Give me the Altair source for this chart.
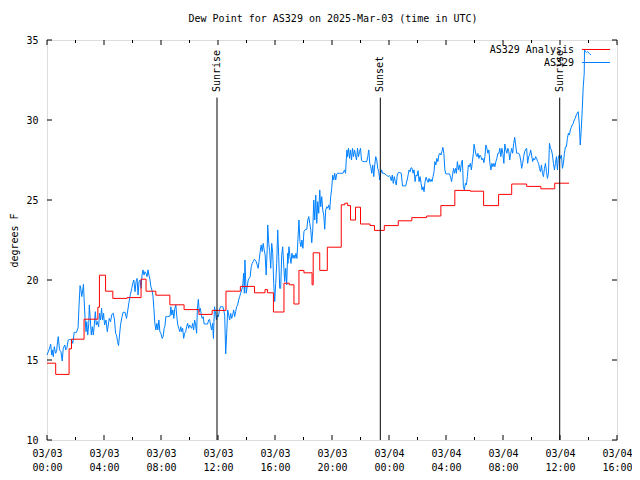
import altair as alt
import pandas as pd

# ---------------- data (hours since 2025-03-03 00:00 UTC, dew point in deg F) ----------------
title_text = "Dew Point for AS329 on 2025-Mar-03 (time in UTC)"
series_names = ["AS329 Analysis", "AS329"]
series_colors = ["#ff0000", "#0080ff"]

red_hours = [0.0, 0.61, 1.55, 1.72, 2.6, 3.57, 3.68, 4.11, 4.62, 5.62, 6.6, 6.95, 7.64, 8.62,
             9.62, 10.66, 11.59, 12.56, 13.57, 14.56, 15.3, 15.47, 15.89, 16.63, 17.0, 17.33,
             17.68, 18.03, 18.6, 18.68, 19.14, 19.67, 20.65, 20.9, 21.1, 21.3, 21.65, 22.0,
             22.67, 22.98, 23.67, 24.65, 25.6, 26.64, 27.64, 28.62, 29.7, 30.64, 31.69, 32.61,
             33.66, 34.66, 35.63, 36.63]
red_vals = [14.8, 14.1, 15.7, 16.3, 17.55, 18.3, 20.3, 19.3, 18.85, 18.9, 20.05, 19.3, 19.05, 18.45,
            18.15, 17.85, 18.1, 19.3, 19.6, 19.2, 19.4, 19.2, 18.0, 19.8, 19.7, 18.5,
            20.6, 20.45, 19.7, 21.7, 20.6, 22.05, 24.7, 24.8, 24.65, 23.75, 24.55, 23.5,
            23.4, 23.1, 23.4, 23.7, 23.9, 24.0, 24.65, 25.6, 25.55, 24.65, 25.35, 26.0,
            25.85, 25.7, 26.05, 26.05]

blue_seg1 = [(0.00, 15.31), (0.14, 15.63), (0.26, 15.98), (0.33, 15.31), (0.37, 15.63), (0.44, 15.21),
             (0.51, 15.83), (0.60, 15.42), (0.67, 15.52), (0.74, 16.15), (0.79, 16.46), (0.88, 15.63),
             (0.98, 15.52), (1.07, 14.94), (1.14, 15.73), (1.25, 15.94), (1.32, 15.63), (1.39, 15.73),
             (1.49, 16.25), (1.60, 16.29), (1.72, 16.25), (1.81, 16.04), (1.91, 16.73), (2.07, 16.73),
             (2.18, 17.02), (2.25, 18.44), (2.32, 19.65), (2.37, 19.48), (2.44, 18.96), (2.51, 19.38),
             (2.56, 19.73), (2.60, 18.85), (2.67, 17.6), (2.74, 16.77), (2.79, 17.4), (2.86, 16.56),
             (2.93, 17.29), (2.97, 18.44), (3.04, 17.5), (3.11, 16.56), (3.18, 17.08), (3.25, 16.56),
             (3.32, 17.19), (3.39, 18.02), (3.46, 17.19), (3.53, 17.4), (3.62, 17.08), (3.69, 17.92),
             (3.76, 17.5), (3.83, 18.23), (3.90, 17.5), (3.97, 17.92), (4.04, 17.19), (4.14, 17.5),
             (4.23, 16.77), (4.30, 17.19), (4.37, 17.6), (4.46, 17.4), (4.55, 17.85), (4.65, 17.92),
             (4.74, 17.5), (4.81, 16.67), (4.88, 16.56), (4.95, 16.15), (5.02, 15.9), (5.09, 16.56),
             (5.16, 17.19), (5.25, 17.65), (5.34, 17.98), (5.48, 17.98), (5.58, 17.6), (5.67, 18.12),
             (5.76, 18.65), (5.85, 19.1), (5.95, 19.48), (6.02, 19.79), (6.09, 20.0), (6.18, 19.27),
             (6.25, 19.9), (6.32, 20.1), (6.39, 19.06), (6.46, 19.9), (6.53, 20.0), (6.60, 19.48),
             (6.67, 20.31), (6.74, 20.63), (6.81, 20.31), (6.88, 20.52), (6.95, 20.42), (7.02, 20.21),
             (7.09, 20.63), (7.15, 20.31), (7.22, 20.06), (7.29, 19.58), (7.36, 19.38), (7.43, 19.06),
             (7.50, 18.23), (7.57, 17.29), (7.64, 16.88), (7.71, 17.29), (7.78, 16.88), (7.85, 17.5),
             (7.92, 16.77), (7.99, 16.67), (8.08, 16.35), (8.15, 16.46), (8.22, 16.98)]
blue_seg2 = [(8.27, 17.08), (8.34, 17.71), (8.46, 17.71), (8.64, 17.75), (8.69, 18.33), (8.76, 17.81),
             (8.83, 18.13), (8.90, 17.6), (8.97, 18.23), (9.04, 18.44), (9.11, 17.71), (9.18, 17.19),
             (9.25, 16.98), (9.32, 16.77), (9.39, 17.08), (9.45, 16.77), (9.52, 16.98), (9.59, 16.35),
             (9.66, 16.67), (9.73, 16.77), (9.80, 17.08), (9.87, 17.29), (9.94, 16.98), (10.01, 17.19),
             (10.08, 17.08), (10.15, 16.98), (10.22, 17.29), (10.29, 16.88), (10.36, 17.5), (10.43, 17.19),
             (10.50, 16.67), (10.55, 18.13), (10.62, 18.79), (10.69, 18.02), (10.76, 18.23), (10.83, 17.81),
             (10.89, 17.6), (10.96, 17.71), (11.03, 17.25), (11.15, 17.25), (11.27, 17.25), (11.34, 17.5),
             (11.41, 17.54), (11.48, 17.19), (11.55, 16.88), (11.62, 17.29), (11.68, 16.35), (11.75, 18.33),
             (11.82, 18.02), (11.89, 17.5), (11.96, 17.81), (12.03, 17.71), (12.10, 18.13), (12.17, 18.33),
             (12.24, 18.33), (12.34, 18.33), (12.40, 18.13), (12.47, 17.81), (12.54, 15.38), (12.61, 16.67),
             (12.68, 18.13), (12.75, 17.81), (12.82, 17.5), (12.89, 17.92), (12.96, 17.6), (13.03, 17.81),
             (13.10, 18.13), (13.17, 17.71), (13.24, 18.02), (13.31, 18.33), (13.38, 18.44), (13.45, 18.75),
             (13.52, 18.96), (13.59, 19.17), (13.66, 19.38), (13.73, 19.58), (13.80, 20.42), (13.85, 19.17),
             (13.89, 21.25), (13.94, 20.0), (13.98, 19.17), (14.05, 19.58), (14.12, 20.0), (14.19, 20.1),
             (14.26, 20.21), (14.33, 20.83), (14.40, 21.04), (14.47, 21.15), (14.54, 21.29), (14.61, 21.25),
             (14.68, 21.15), (14.75, 20.94), (14.82, 20.73), (14.89, 21.25), (14.96, 21.77), (15.03, 22.19),
             (15.10, 21.77), (15.17, 22.29), (15.24, 21.88), (15.31, 21.56), (15.38, 20.31), (15.45, 21.88),
             (15.49, 23.44), (15.56, 22.29), (15.63, 21.77), (15.70, 20.73), (15.77, 22.29), (15.84, 21.67),
             (15.91, 19.79), (15.98, 18.65), (16.05, 19.79), (16.12, 21.04), (16.19, 23.13), (16.26, 21.46),
             (16.33, 19.48), (16.40, 19.48), (16.47, 21.56), (16.54, 22.08), (16.61, 20.94), (16.68, 19.9),
             (16.75, 20.73), (16.82, 19.69), (16.89, 21.67)]
blue_seg3 = [(16.91, 21.04), (16.98, 22.08), (17.05, 21.46), (17.12, 21.04), (17.19, 21.67), (17.26, 21.35),
             (17.33, 21.56), (17.40, 21.35), (17.47, 21.67), (17.54, 21.35), (17.61, 22.54), (17.68, 23.75),
             (17.75, 22.4), (17.82, 22.08), (17.89, 22.5), (17.96, 21.98), (18.03, 23.02), (18.10, 23.13),
             (18.17, 23.17), (18.23, 23.17), (18.30, 23.75), (18.37, 23.96), (18.44, 23.54), (18.51, 23.13),
             (18.58, 22.33), (18.65, 23.13), (18.72, 25.0), (18.79, 23.75), (18.86, 25.31), (18.93, 23.54),
             (19.00, 24.9), (19.07, 24.17), (19.14, 25.63), (19.21, 24.58), (19.28, 25.21), (19.35, 24.38),
             (19.42, 24.06), (19.49, 23.17), (19.56, 24.38), (19.63, 24.58), (19.70, 24.48), (19.77, 24.69),
             (19.84, 24.38), (19.91, 25.21), (19.98, 25.73), (20.05, 26.56), (20.12, 26.25), (20.19, 26.67),
             (20.26, 26.25), (20.33, 26.63), (20.40, 26.67), (20.53, 26.67), (20.67, 26.67), (20.77, 26.67),
             (20.88, 26.88), (20.95, 26.67), (21.00, 27.5), (21.05, 28.13), (21.09, 27.71), (21.16, 28.23),
             (21.23, 27.6), (21.30, 28.13), (21.37, 27.5), (21.44, 28.23), (21.51, 27.71), (21.58, 28.13),
             (21.65, 27.81), (21.72, 27.5), (21.79, 28.23), (21.86, 27.71), (21.93, 28.02), (22.00, 28.23),
             (22.07, 27.5), (22.16, 27.4), (22.30, 27.4), (22.44, 27.4), (22.51, 27.71), (22.58, 28.13),
             (22.65, 27.29), (22.72, 27.08), (22.79, 26.67), (22.86, 27.19), (22.93, 26.46), (23.00, 27.19),
             (23.07, 27.71), (23.14, 27.5), (23.21, 26.98), (23.28, 26.77), (23.35, 26.25), (23.42, 26.67),
             (23.48, 26.88), (23.55, 26.67), (23.65, 26.67), (23.74, 26.6), (23.83, 26.56), (23.93, 26.46),
             (24.02, 26.52), (24.09, 26.46), (24.16, 26.21), (24.23, 26.56), (24.30, 26.04), (24.37, 26.46),
             (24.44, 26.15), (24.51, 25.94), (24.58, 26.56), (24.65, 26.71), (24.76, 26.71), (24.86, 26.67),
             (24.95, 25.88), (25.06, 25.88), (25.18, 25.88), (25.25, 26.21)]
blue_seg4 = [(25.27, 26.21), (25.34, 26.56), (25.41, 26.88), (25.48, 26.77), (25.55, 27.02), (25.62, 26.98),
             (25.69, 26.67), (25.76, 26.88), (25.83, 26.15), (25.90, 26.56), (25.97, 26.5), (26.04, 26.83),
             (26.11, 26.15), (26.18, 26.46), (26.25, 26.04), (26.32, 25.63), (26.39, 25.83), (26.46, 25.52),
             (26.53, 26.15), (26.60, 26.42), (26.67, 26.25), (26.74, 26.1), (26.81, 26.35), (26.88, 26.15),
             (26.95, 26.29), (27.02, 26.15), (27.09, 26.46), (27.16, 26.77), (27.22, 27.4), (27.29, 27.19),
             (27.36, 27.6), (27.43, 27.4), (27.50, 27.81), (27.57, 27.92), (27.64, 27.81), (27.71, 28.02),
             (27.78, 28.29), (27.85, 27.92), (27.92, 26.88), (27.99, 26.63), (28.11, 26.63), (28.25, 26.63),
             (28.32, 26.42), (28.39, 26.15), (28.46, 26.56), (28.53, 26.98), (28.60, 26.67), (28.67, 26.98),
             (28.73, 26.67), (28.80, 27.4), (28.87, 26.88), (28.94, 27.19), (29.01, 26.77), (29.08, 27.29),
             (29.15, 27.5), (29.22, 25.83), (29.29, 25.63), (29.36, 26.04), (29.43, 25.94), (29.50, 26.46),
             (29.57, 27.19), (29.64, 27.08), (29.71, 27.29), (29.78, 26.88), (29.85, 27.4), (29.92, 27.92),
             (29.97, 28.48), (30.04, 28.13), (30.11, 27.81), (30.18, 27.71), (30.24, 27.92), (30.31, 27.6),
             (30.38, 27.81), (30.45, 27.71), (30.52, 27.5), (30.59, 27.6), (30.66, 27.33), (30.73, 27.71),
             (30.80, 28.44), (30.87, 28.23), (30.94, 27.92), (31.01, 28.13), (31.08, 27.29), (31.15, 26.88),
             (31.22, 27.29), (31.29, 27.08), (31.36, 27.29), (31.43, 27.08), (31.50, 27.4), (31.57, 27.6),
             (31.64, 27.92), (31.71, 27.92), (31.78, 28.23), (31.85, 27.71), (31.92, 28.23), (31.99, 27.92),
             (32.06, 27.29), (32.13, 28.5), (32.20, 28.13), (32.27, 27.92), (32.34, 28.23), (32.41, 28.02),
             (32.47, 27.5), (32.54, 27.92), (32.61, 28.23), (32.68, 27.92), (32.75, 28.54), (32.82, 28.92),
             (32.89, 28.44), (32.96, 27.92), (33.03, 27.92), (33.10, 27.92), (33.17, 27.81), (33.24, 27.5),
             (33.31, 26.98), (33.38, 27.29), (33.45, 27.71), (33.52, 28.02), (33.59, 28.17), (33.66, 28.23)]
blue_seg5 = [(33.73, 27.29), (33.80, 27.71), (33.87, 27.81), (33.94, 28.13), (34.01, 27.81), (34.08, 27.4),
             (34.15, 27.6), (34.22, 27.5), (34.29, 27.71), (34.36, 27.6), (34.43, 27.4), (34.50, 27.29),
             (34.56, 26.98), (34.63, 26.77), (34.70, 27.19), (34.77, 26.67), (34.84, 26.46), (34.91, 26.98),
             (34.98, 27.29), (35.05, 26.77), (35.12, 26.35), (35.19, 26.67), (35.26, 28.54), (35.33, 28.23),
             (35.40, 28.13), (35.47, 27.81), (35.54, 27.29), (35.61, 26.88), (35.68, 27.29), (35.75, 27.71),
             (35.82, 26.88), (35.89, 27.71), (35.96, 27.81), (36.03, 27.6), (36.10, 27.81), (36.17, 26.98),
             (36.24, 27.29), (36.31, 27.92), (36.38, 28.33), (36.45, 28.33), (36.52, 28.85), (36.59, 29.17),
             (36.66, 29.06), (36.73, 29.38), (36.79, 29.54), (36.86, 29.69), (36.93, 29.79), (37.00, 30.0),
             (37.07, 30.1), (37.14, 30.31), (37.21, 30.42), (37.28, 30.52), (37.35, 29.79), (37.42, 28.44),
             (37.49, 29.38), (37.56, 30.63), (37.63, 32.08), (37.70, 32.92), (37.72, 34.38), (37.79, 34.27),
             (37.86, 34.21), (37.93, 34.27), (38.05, 34.17), (38.17, 34.06)]

event_names = ["Sunrise", "Sunset", "Sunrise"]
event_hours = [11.93, 23.39, 35.98]

y_ticks = [10, 15, 20, 25, 30, 35]
x_major = [0, 4, 8, 12, 16, 20, 24, 28, 32, 36, 40]
x_minor = [2, 6, 10, 14, 18, 22, 26, 30, 34, 38]

# ---------------- chart ----------------
W, H = 570, 400
FONT = "DejaVu Sans Mono"

blue_df = pd.DataFrame(blue_seg1 + blue_seg2 + blue_seg3 + blue_seg4 + blue_seg5,
                       columns=["hours", "dewpt"])
red_df = pd.DataFrame({"hours": red_hours, "dewpt": red_vals})
ev_df = pd.DataFrame({"hours": event_hours, "name": event_names})
yt_df = pd.DataFrame({"dewpt": y_ticks})
xM_df = pd.DataFrame({"hours": x_major})
xm_df = pd.DataFrame({"hours": x_minor})
title_df = pd.DataFrame({"label": [title_text]})

xs = alt.Scale(domain=[0, 40], nice=False, zero=False)
ys = alt.Scale(domain=[10, 35], nice=False, zero=False)

x_axis = alt.Axis(
    values=x_major, grid=False, ticks=False, tickSize=0, domain=False,
    labelExpr="[datum.value < 24 ? '03/03' : '03/04', (datum.value % 24 < 10 ? '0' : '') + (datum.value % 24) + ':00']",
    labelFont=FONT, labelFontSize=10, labelColor="black", labelPadding=8,
    labelBaseline="top", labelLineHeight=14, labelAngle=0, labelFlush=False,
    labelOverlap=False, title=None,
)
y_axis = alt.Axis(
    values=y_ticks, grid=False, ticks=False, tickSize=0, domain=False,
    labelFont=FONT, labelFontSize=10, labelColor="black", labelPadding=9,
    labelOverlap=False, labelFlush=False,
    title="degrees F", titleFont=FONT, titleFontSize=10, titleFontWeight="normal",
    titleColor="black", titlePadding=6,
)

blue = alt.Chart(blue_df).mark_line(color=series_colors[1], strokeWidth=1).encode(
    x=alt.X("hours:Q", scale=xs, axis=x_axis),
    y=alt.Y("dewpt:Q", scale=ys, axis=y_axis),
)
red = alt.Chart(red_df).mark_line(color=series_colors[0], strokeWidth=1, interpolate="step-after").encode(
    x=alt.X("hours:Q", scale=xs),
    y=alt.Y("dewpt:Q", scale=ys),
)

ev_rule = alt.Chart(ev_df).mark_rule(color="black", strokeWidth=1).encode(
    x=alt.X("hours:Q", scale=xs),
    y=alt.datum(31.4),
    y2=alt.datum(10),
)
ev_text = alt.Chart(ev_df).mark_text(
    angle=270, align="left", baseline="middle", font=FONT, fontSize=10, color="black"
).encode(
    x=alt.X("hours:Q", scale=xs),
    y=alt.datum(31.75),
    text="name:N",
)

tick_left = alt.Chart(yt_df).mark_rule(color="black").encode(
    y=alt.Y("dewpt:Q", scale=ys), x=alt.value(0), x2=alt.value(5))
tick_right = alt.Chart(yt_df).mark_rule(color="black").encode(
    y=alt.Y("dewpt:Q", scale=ys), x=alt.value(W), x2=alt.value(W - 5))
tick_bot_M = alt.Chart(xM_df).mark_rule(color="black").encode(
    x=alt.X("hours:Q", scale=xs), y=alt.value(H), y2=alt.value(H - 5))
tick_top_M = alt.Chart(xM_df).mark_rule(color="black").encode(
    x=alt.X("hours:Q", scale=xs), y=alt.value(0), y2=alt.value(5))
tick_bot_m = alt.Chart(xm_df).mark_rule(color="black").encode(
    x=alt.X("hours:Q", scale=xs), y=alt.value(H), y2=alt.value(H - 3))
tick_top_m = alt.Chart(xm_df).mark_rule(color="black").encode(
    x=alt.X("hours:Q", scale=xs), y=alt.value(0), y2=alt.value(3))

leg1_df = pd.DataFrame({"label": [series_names[0]]})
leg2_df = pd.DataFrame({"label": [series_names[1]]})
leg1_text = alt.Chart(leg1_df).mark_text(align="right", baseline="middle", font=FONT,
                                         fontSize=10, color="black").encode(
    x=alt.value(527), y=alt.value(10), text="label:N")
leg2_text = alt.Chart(leg2_df).mark_text(align="right", baseline="middle", font=FONT,
                                         fontSize=10, color="black").encode(
    x=alt.value(527), y=alt.value(23), text="label:N")
leg1_line = alt.Chart(leg1_df).mark_rule(color=series_colors[0]).encode(
    x=alt.value(535), x2=alt.value(563), y=alt.value(9.5))
leg2_line = alt.Chart(leg2_df).mark_rule(color=series_colors[1]).encode(
    x=alt.value(535), x2=alt.value(563), y=alt.value(22.5))

title_mark = alt.Chart(title_df).mark_text(align="center", baseline="middle", font=FONT,
                                           fontSize=10, color="black").encode(
    x=alt.value(286), y=alt.value(-21), text="label:N")

chart = alt.layer(
    blue, red, ev_rule, ev_text,
    tick_left, tick_right, tick_bot_M, tick_top_M, tick_bot_m, tick_top_m,
    leg1_text, leg2_text, leg1_line, leg2_line, title_mark,
).properties(
    width=W, height=H,
    padding={"left": 39, "top": 32, "right": 15, "bottom": 32},
    autosize=alt.AutoSizeParams(type="none"),
).configure_view(stroke="black", strokeWidth=1).configure(background="white")

chart.save("out.html", embed_options={"renderer": "svg", "actions": False})
